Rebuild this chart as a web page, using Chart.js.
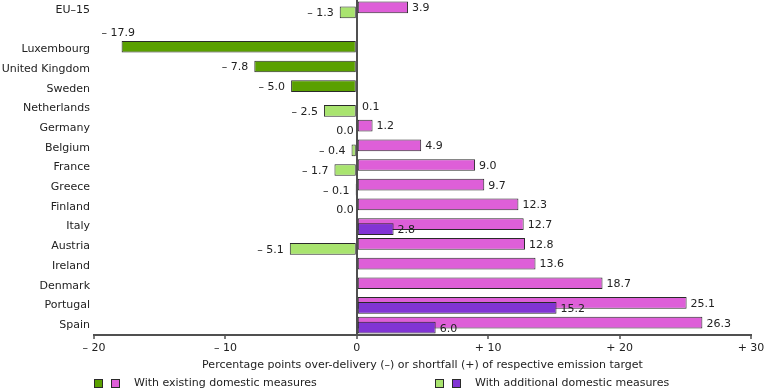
<!DOCTYPE html>
<html><head><meta charset="utf-8">
<script src="https://cdn.jsdelivr.net/npm/chart.js@4/dist/chart.umd.min.js"></script>
<style>
html,body{margin:0;padding:0;background:#fff;}
#wrap{position:relative;width:768px;height:389px;overflow:hidden;}
#legend{position:absolute;left:0;top:377px;width:768px;height:12px;font:11px "DejaVu Sans",sans-serif;color:#222;}
.item{position:absolute;top:0;height:12px;line-height:12px;white-space:nowrap;}
.sw{position:absolute;top:2px;width:7px;height:7px;border:1px solid #2a2a2a;}
.txt{position:absolute;top:0;}
</style></head><body>
<div id="wrap"><canvas id="c" width="768" height="389"></canvas><div id="legend"></div></div>
<script>
const categories = ['EU–15','','Luxembourg','United Kingdom','Sweden','Netherlands','Germany','Belgium','France','Greece','Finland','Italy','Austria','Ireland','Denmark','Portugal','Spain'];
const existing   = [3.9, null, -17.9, -7.8, -5.0, 0.1, 1.2, 4.9, 9.0, 9.7, 12.3, 12.7, 12.8, 13.6, 18.7, 25.1, 26.3];
const additional = [-1.3, null, null, null, null, -2.5, 0.0, -0.4, -1.7, -0.1, 0.0, 2.8, -5.1, null, null, 15.2, 6.0];
const xTicks = [-20, -10, 0, 10, 20, 30];
const seriesNames = ['With existing domestic measures', 'With additional domestic measures'];
const axisTitle = 'Percentage points over-delivery (–) or shortfall (+) of respective emission target';

const COL = {
  exPos: '#de5fd8', exNeg: '#5aa000',
  adPos: '#8134d4', adNeg: '#a9e46f',
  border: '#2a2a2a', text: '#222222', axis: '#505050'
};
const FONT = {family: '"DejaVu Sans", sans-serif', size: 11};

function fmt(v){ return v < 0 ? '– ' + Math.abs(v).toFixed(1) : v.toFixed(1); }
function tickFmt(v){ return v < 0 ? '– ' + Math.abs(v) : (v > 0 ? '+ ' + v : '0'); }

const orderPlugin = {
  id: 'orderAndLabels',
  beforeDatasetsDraw(chart){
    const ctx = chart.ctx;
    // existing first, additional drawn on top of it
    chart.getDatasetMeta(0).controller.draw();
    chart.getDatasetMeta(1).controller.draw();
    ctx.save();
    ctx.font = FONT.size + 'px ' + FONT.family;
    ctx.fillStyle = COL.text;
    const area = chart.chartArea;
    chart.data.datasets.forEach((ds, i) => {
      const meta = chart.getDatasetMeta(i);
      ds.data.forEach((v, j) => {
        if (v === null || v === undefined) return;
        const el = meta.data[j];
        const t = fmt(v);
        const w = ctx.measureText(t).width;
        if (v > 0) {
          ctx.textAlign = 'left';
          ctx.textBaseline = 'middle';
          ctx.fillText(t, el.x + 4, el.y + 1);
        } else {
          const xr = el.x - (v === 0 ? 3 : 6);
          if (xr - w < area.left) {
            ctx.textAlign = 'left';
            ctx.textBaseline = 'bottom';
            ctx.fillText(t, el.x - 20, el.y - el.height / 2 - 2);
          } else {
            ctx.textAlign = 'right';
            ctx.textBaseline = 'middle';
            ctx.fillText(t, xr, el.y + 1);
          }
        }
      });
    });
    ctx.restore();
    return false;
  }
};

const barStyle = {
  borderWidth: 1, borderColor: COL.border, borderSkipped: false,
  categoryPercentage: 0.507, barPercentage: 2.34
};

new Chart(document.getElementById('c'), {
  type: 'bar',
  data: {
    labels: categories,
    datasets: [
      Object.assign({ label: seriesNames[0], data: existing,
        backgroundColor: c => (c.raw < 0 ? COL.exNeg : COL.exPos) }, barStyle),
      Object.assign({ label: seriesNames[1], data: additional,
        backgroundColor: c => (c.raw < 0 ? COL.adNeg : COL.adPos) }, barStyle)
    ]
  },
  options: {
    indexAxis: 'y',
    responsive: false,
    animation: false,
    devicePixelRatio: 1,
    layout: { padding: { top: 0, right: 17, bottom: 14, left: 0 } },
    plugins: { legend: { display: false }, tooltip: { enabled: false } },
    scales: {
      x: {
        type: 'linear', min: -20, max: 30,
        afterBuildTicks: s => { s.ticks = xTicks.map(v => ({ value: v })); },
        ticks: { callback: v => tickFmt(v), font: FONT, color: COL.text, padding: 3, maxRotation: 0 },
        grid: {
          drawOnChartArea: true, drawTicks: true, tickLength: 4,
          color: c => (c.tick && c.tick.value === 0 ? COL.axis : 'rgba(0,0,0,0)'),
          tickColor: COL.axis, lineWidth: 2, tickWidth: 1.5
        },
        border: { display: true, color: COL.axis, width: 2 },
        title: { display: true, text: axisTitle, font: FONT, color: COL.text, padding: { top: 2, bottom: 3 } },
        afterFit: s => { s.height = 40; s.paddingLeft = 0; s.paddingRight = 0; }
      },
      y: {
        type: 'category',
        ticks: { font: FONT, color: COL.text, padding: 4, autoSkip: false },
        grid: { display: false, drawTicks: false },
        border: { display: false },
        afterFit: s => { s.width = 94; s.paddingTop = 0; s.paddingBottom = 0; }
      }
    }
  },
  plugins: [orderPlugin]
});

// legend (HTML)
const legendSpec = [
  { x: 94, colors: [COL.exNeg, COL.exPos], text: seriesNames[0] },
  { x: 435, colors: [COL.adNeg, COL.adPos], text: seriesNames[1] }
];
const lg = document.getElementById('legend');
legendSpec.forEach(s => {
  const it = document.createElement('div');
  it.className = 'item';
  it.style.left = s.x + 'px';
  s.colors.forEach((c, k) => {
    const sw = document.createElement('span');
    sw.className = 'sw';
    sw.style.left = (k * 17) + 'px';
    sw.style.background = c;
    it.appendChild(sw);
  });
  const tx = document.createElement('span');
  tx.className = 'txt';
  tx.style.left = '40px';
  tx.textContent = s.text;
  it.appendChild(tx);
  lg.appendChild(it);
});
</script>
</body></html>
